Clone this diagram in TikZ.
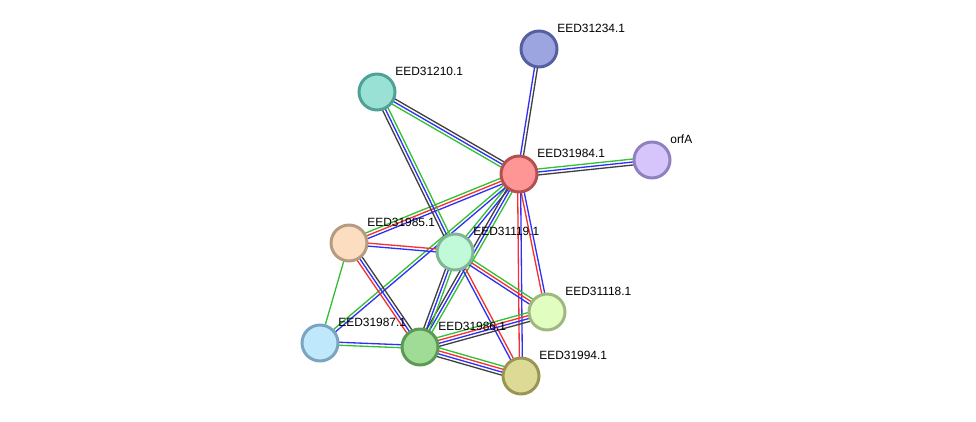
\documentclass[tikz,border=0pt]{standalone}
\usepackage{fontspec}
\setmainfont{Liberation Sans}
\usetikzlibrary{calc,backgrounds}
\tikzset{protein/.style={circle,line width=1.7pt,minimum size=0.72cm,inner sep=0pt}}
\tikzset{protlabel/.style={anchor=west,inner sep=0pt,font=\fontsize{6.8}{8}\selectfont}}
\tikzset{ppiline/.style={line width=0.75pt}}
\definecolor{nbColor}{HTML}{2F2FF5}
\definecolor{exColor}{HTML}{F53030}
\definecolor{coColor}{HTML}{33C033}
\colorlet{bkColor}{black!75}
% one coloured line per evidence channel, side by side
\newcommand{\ppi}[3]{%
	\foreach \col [count=\k] in {#3} {\xdef\nlines{\k}}%
	\foreach \col [count=\k] in {#3} {%
		\pgfmathsetmacro\off{(\k-(\nlines+1)/2)*1.7}%
		\draw[ppiline,\col] ($(#1.center)!\off pt!90:(#2.center)$) -- ($(#2.center)!\off pt!-90:(#1.center)$);}%
}
\begin{document}
\begin{tikzpicture}[x=0.02cm,y=-0.02cm]
	\useasboundingbox (0,0) rectangle (976,422);
	\node[protein, fill={rgb,255:red,255;green,150;blue,150}, draw={rgb,255:red,180;green,80;blue,80}] at (519,174) (p984) {};
	\node[protein, fill={rgb,255:red,157;green,165;blue,224}, draw={rgb,255:red,85;green,96;blue,160}] at (539,49) (p234) {};
	\node[protein, fill={rgb,255:red,153;green,224;blue,213}, draw={rgb,255:red,80;green,160;blue,149}] at (377,92) (p210) {};
	\node[protein, fill={rgb,255:red,213;green,197;blue,250}, draw={rgb,255:red,144;green,128;blue,192}] at (652,160) (porfA) {};
	\node[protein, fill={rgb,255:red,253;green,221;blue,192}, draw={rgb,255:red,181;green,155;blue,128}] at (349,243) (p985) {};
	\node[protein, fill={rgb,255:red,192;green,250;blue,216}, draw={rgb,255:red,128;green,181;blue,149}] at (455,252) (p119) {};
	\node[protein, fill={rgb,255:red,226;green,253;blue,192}, draw={rgb,255:red,160;green,184;blue,128}] at (547,312) (p118) {};
	\node[protein, fill={rgb,255:red,192;green,232;blue,253}, draw={rgb,255:red,122;green,165;blue,192}] at (320,343) (p987) {};
	\node[protein, fill={rgb,255:red,160;green,220;blue,149}, draw={rgb,255:red,90;green,154;blue,85}] at (420,347) (p986) {};
	\node[protein, fill={rgb,255:red,221;green,218;blue,149}, draw={rgb,255:red,154;green,149;blue,85}] at (521,376) (p994) {};
	\foreach \p/\t in {p984/EED31984.1, p234/EED31234.1, p210/EED31210.1, porfA/orfA, p985/EED31985.1,
		p119/EED31119.1, p118/EED31118.1, p987/EED31987.1, p986/EED31986.1, p994/EED31994.1}
		\node[protlabel] at ($(\p)+(18,-21)$) (\p-lab) {\t};
	\begin{scope}[on background layer]
		\ppi{p984}{p234}{bkColor,nbColor}
		\ppi{p984}{p210}{bkColor,nbColor,coColor}
		\ppi{p984}{porfA}{bkColor,nbColor,coColor}
		\ppi{p984}{p985}{coColor,exColor,nbColor}
		\ppi{p984}{p119}{coColor,nbColor}
		\ppi{p984}{p987}{coColor,nbColor}
		\ppi{p984}{p986}{bkColor,nbColor,coColor}
		\ppi{p984}{p118}{exColor,nbColor}
		\ppi{p984}{p994}{exColor,nbColor}
		\ppi{p210}{p119}{bkColor,nbColor,coColor}
		\ppi{p985}{p119}{nbColor,exColor}
		\ppi{p985}{p986}{exColor,nbColor,bkColor}
		\ppi{p985}{p987}{coColor}
		\ppi{p119}{p986}{bkColor,nbColor,coColor}
		\ppi{p119}{p118}{nbColor,exColor,coColor}
		\ppi{p119}{p994}{nbColor,exColor}
		\ppi{p987}{p986}{coColor,nbColor}
		\ppi{p986}{p118}{bkColor,nbColor,exColor,coColor}
		\ppi{p986}{p994}{bkColor,nbColor,exColor,coColor}
	\end{scope}
\end{tikzpicture}
\end{document}
